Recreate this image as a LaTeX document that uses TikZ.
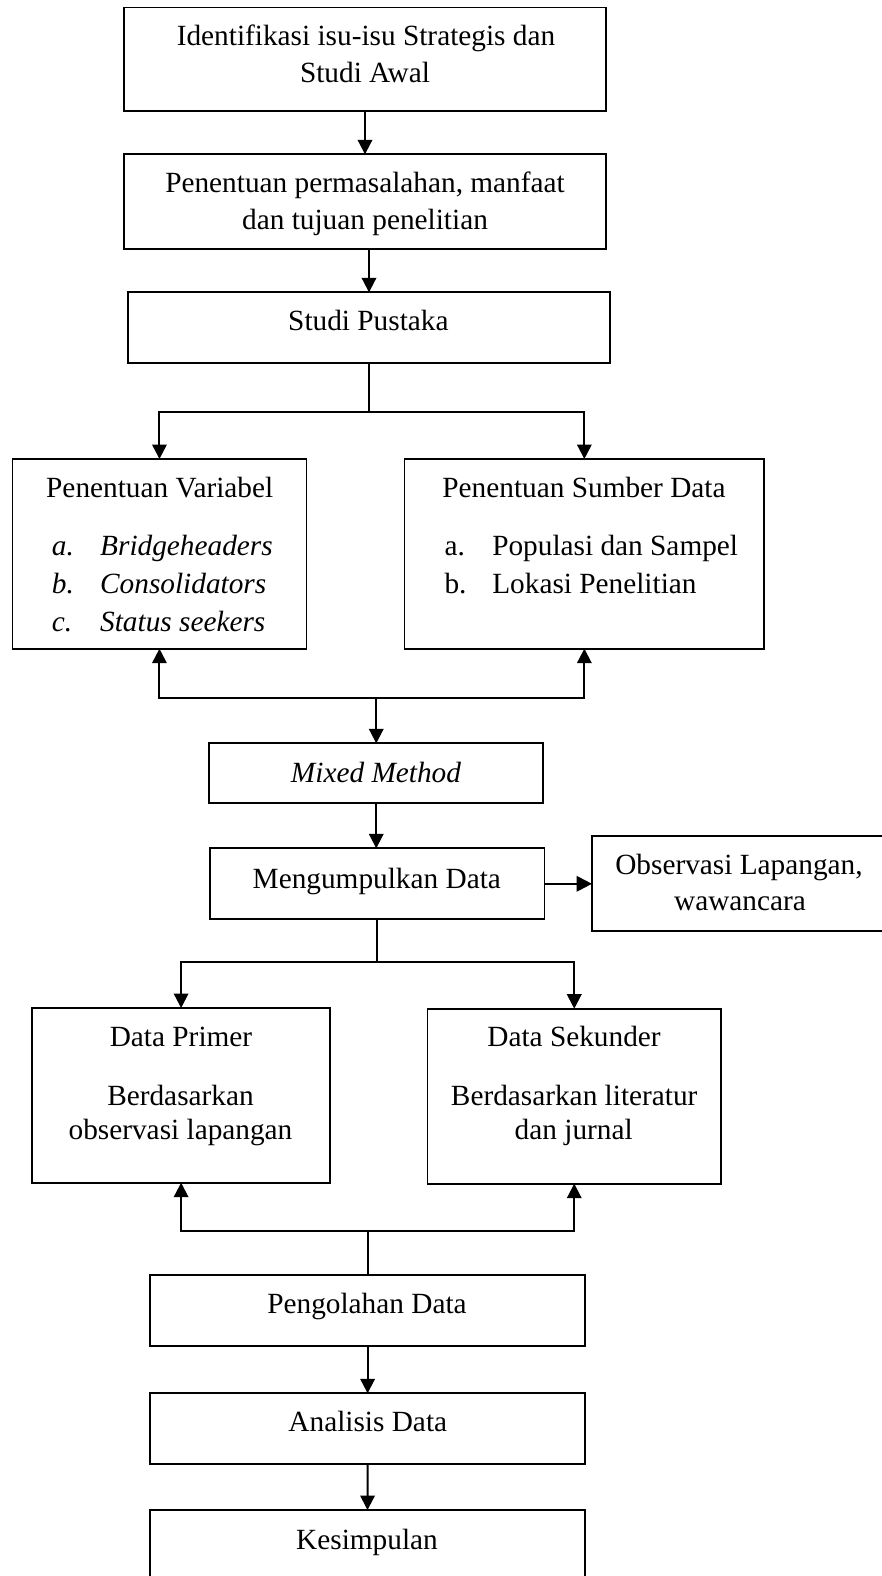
\documentclass[tikz,border=0pt]{standalone}
\usepackage{fontspec}
\setmainfont{Liberation Serif}
\usetikzlibrary{arrows.meta,calc}
\begin{document}
\begin{tikzpicture}[x=1pt,y=-1pt,
  box/.style={draw,line width=1.8pt,inner sep=0pt,outer sep=0pt},
  txt/.style={anchor=base,inner sep=0pt,font=\fontsize{29.3}{36.5}\selectfont},
  txtl/.style={anchor=base west,inner sep=0pt,font=\fontsize{29.3}{36.5}\selectfont},
  conn/.style={line width=2pt},
  arr/.style={line width=2pt,-{Triangle[length=14.5pt,width=14.5pt]}},
  thickarr/.style={line width=2.2pt,-{Triangle[length=15.5pt,width=15.5pt]}}]
\useasboundingbox (0,0) rectangle (882,1576);
\clip (0,0) rectangle (882,1576);
\fill[white] (0,0) rectangle (882,1576);

% boxes
\node[box,minimum width=482.6pt,minimum height=103.5pt] (b1) at (365,59.25) {};
\node[box,minimum width=482.6pt,minimum height=94.7pt] (b2) at (365,201.65) {};
\node[box,minimum width=482.5pt,minimum height=70.4pt] (b3) at (369,327.5) {};
\node[box,minimum width=294.1pt,minimum height=189.7pt] (b4) at (159.45,553.85) {};
\node[box,minimum width=359.9pt,minimum height=189.7pt] (b5) at (584.35,553.85) {};
\node[box,minimum width=334.1pt,minimum height=59.4pt] (b6) at (376.25,773) {};
\node[box,minimum width=334.6pt,minimum height=71pt] (b7) at (377.1,883.8) {};
\node[box,minimum width=308pt,minimum height=95pt] (b8) at (746,883.5) {};
\node[box,minimum width=298.2pt,minimum height=174.7pt] (b9) at (181.1,1095.35) {};
\node[box,minimum width=293.5pt,minimum height=175pt] (b10) at (574.25,1096.2) {};
\node[box,minimum width=434.8pt,minimum height=71pt] (b11) at (367.6,1310.5) {};
\node[box,minimum width=434.8pt,minimum height=71pt] (b12) at (367.6,1428.8) {};
\node[box,minimum width=435pt,minimum height=90pt] (b13) at (367.5,1555) {};

% texts
\node[txt] (t1a) at (366,45.7) {Identifikasi isu-isu Strategis dan};
\node[txt] (t1b) at (365,82.3) {Studi Awal};
\node[txt] (t2a) at (365,192.7) {Penentuan permasalahan, manfaat};
\node[txt] (t2b) at (365,229.3) {dan tujuan penelitian};
\node[txt] (t3) at (368.4,330.7) {Studi Pustaka};
\node[txt] (t4) at (159.7,497.3) {Penentuan Variabel};
\node[txtl] (t4a) at (51.7,555) {\itshape a.};
\node[txtl] (t4ai) at (100,555) {\itshape Bridgeheaders};
\node[txtl] (t4b) at (51.7,593.3) {\itshape b.};
\node[txtl] (t4bi) at (100,593.3) {\itshape Consolidators};
\node[txtl] (t4c) at (51.7,631.5) {\itshape c.};
\node[txtl] (t4ci) at (100,631.5) {\itshape Status seekers};
\node[txt] (t5) at (584,497.3) {Penentuan Sumber Data};
\node[txtl] (t5a) at (444.3,555) {a.};
\node[txtl] (t5ai) at (492.1,555) {Populasi dan Sampel};
\node[txtl] (t5b) at (444.3,593.3) {b.};
\node[txtl] (t5bi) at (492.1,593.3) {Lokasi Penelitian};
\node[txt] (t6) at (376,782.7) {\itshape Mixed Method};
\node[txt] (t7) at (376.8,888) {Mengumpulkan Data};
\node[txt] (t8a) at (739,874.5) {Observasi Lapangan,};
\node[txt] (t8b) at (740,910) {wawancara};
\node[txt] (t9) at (181,1046.7) {Data Primer};
\node[txt] (t9a) at (180.5,1105) {Berdasarkan};
\node[txt] (t9b) at (180.5,1139.5) {observasi lapangan};
\node[txt] (t10) at (574,1046.7) {Data Sekunder};
\node[txt] (t10a) at (574.2,1105) {Berdasarkan literatur};
\node[txt] (t10b) at (573.7,1139.5) {dan jurnal};
\node[txt] (t11) at (367,1313.3) {Pengolahan Data};
\node[txt] (t12) at (367.8,1431.7) {Analisis Data};
\node[txt] (t13) at (367,1549) {Kesimpulan};

% junction coordinates
\coordinate (s1) at (0,412);
\coordinate (s2) at (0,697.7);
\coordinate (s3) at (0,962.3);
\coordinate (s4) at (0,1230.7);

% connectors
\draw[arr] (b1.south) -- (b2.north);
\draw[arr] (b3.north |- b2.south) -- (b3.north);
\draw[conn] (b3.south) -- (b3.south |- s1);
\draw[conn,line cap=rect] (b4.north |- s1) -- (b5.north |- s1);
\draw[arr] (b4.north |- s1) -- (b4.north);
\draw[arr] (b5.north |- s1) -- (b5.north);

\draw[conn,line cap=rect] (b4.south |- s2) -- (b5.south |- s2);
\draw[arr] (b4.south |- s2) -- (b4.south);
\draw[arr] (b5.south |- s2) -- (b5.south);
\draw[arr] (b6.north |- s2) -- (b6.north);

\draw[arr] (b6.south) -- (b6.south |- b7.north);
\draw[thickarr] (b7.east) -- (b7.east -| b8.west);

\draw[conn] (b7.south) -- (b7.south |- s3);
\draw[conn,line cap=rect] (b9.north |- s3) -- (b10.north |- s3);
\draw[arr] (b9.north |- s3) -- (b9.north);
\draw[arr] (b10.north |- s3) -- (b10.north);

\draw[conn,line cap=rect] (b9.south |- s4) -- (b10.south |- s4);
\draw[arr] (b9.south |- s4) -- (b9.south);
\draw[arr] (b10.south |- s4) -- (b10.south);
\draw[conn] (b11.north |- s4) -- (b11.north);

\draw[arr] (b11.south) -- (b12.north);
\draw[arr] (b12.south) -- (b13.north);
\end{tikzpicture}
\end{document}
